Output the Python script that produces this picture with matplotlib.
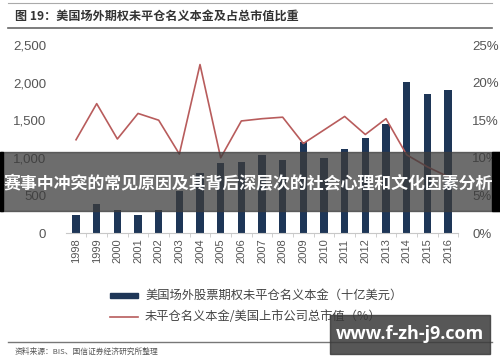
import matplotlib
matplotlib.use("Agg")
import matplotlib.pyplot as plt
from matplotlib.patches import Rectangle
from matplotlib.lines import Line2D
import numpy as np

plt.rcParams['font.family'] = ['Noto Sans CJK SC', 'DejaVu Sans']

years = [str(y) for y in range(1998, 2017)]
notional = [240, 390, 306, 240, 300, 560, 800, 927, 948, 1037, 967, 1206,
            1001, 1117, 1259, 1450, 2012, 1844, 1898]
ratio_pct = [12.4, 17.2, 12.5, 15.9, 15.0, 10.5, 22.4, 10.0, 14.9, 15.2, 15.4,
             11.9, 13.7, 15.5, 13.1, 15.2, 10.4, 8.8, 7.5]
left_ticks = [0, 500, 1000, 1500, 2000, 2500]
left_labels = ['0', '500', '1,000', '1,500', '2,000', '2,500']
right_ticks = [0, 5, 10, 15, 20, 25]
right_labels = ['0%', '5%', '10%', '15%', '20%', '25%']

title = '图 19：美国场外期权未平仓名义本金及占总市值比重'
legend_bar = '美国场外股票期权未平仓名义本金（十亿美元）'
legend_line = '未平仓名义本金/美国上市公司总市值（%）'
source = '资料来源：BIS、国信证券经济研究所整理'
banner = '赛事中冲突的常见原因及其背后深层次的社会心理和文化因素分析'
watermark = 'www.f-zh-j9.com'

W, H = 500, 362
fig = plt.figure(figsize=(W / 100, H / 100), dpi=100)
fig.patch.set_facecolor('white')

def fx(px):
    return px / W

def fy(py):
    return 1 - py / H

ax = fig.add_axes([fx(65.7), fy(233), fx(458.3) - fx(65.7), fy(45) - fy(233)])
x = np.arange(len(years))
bar_color = '#1e3657'
line_color = '#b85c5c'
ax.bar(x, notional, width=0.35, color=bar_color, zorder=2)
ax.set_xlim(-0.5, len(years) - 0.5)
ax.set_ylim(0, 2500)
ax.set_yticks(left_ticks)
ax.set_yticklabels(left_labels)
ax.set_xticks(x)
ax.set_xticklabels(years, rotation=90)
for s in ['top', 'right', 'left']:
    ax.spines[s].set_visible(False)
ax.spines['bottom'].set_color('#c8c8c8')
ax.tick_params(axis='y', length=0, labelsize=9.5, labelcolor='#555555', pad=14)
ax.tick_params(axis='x', length=0, labelsize=8, labelcolor='#555555', pad=4)
ax.set_xticks(np.arange(len(years)) + 0.5, minor=True)
ax.tick_params(axis='x', which='minor', length=3, color='#c8c8c8')
for lab in ax.get_xticklabels() + ax.get_yticklabels():
    lab.set_family(['Liberation Sans', 'DejaVu Sans'])

ax2 = ax.twinx()
ax2.plot(x, ratio_pct, color=line_color, lw=1.2, zorder=3)
ax2.set_ylim(0, 25)
ax2.set_yticks(right_ticks)
ax2.set_yticklabels(right_labels)
for s in ['top', 'right', 'left', 'bottom']:
    ax2.spines[s].set_visible(False)
ax2.tick_params(axis='y', length=0, labelsize=9.5, labelcolor='#555555', pad=10)
for lab in ax2.get_yticklabels():
    lab.set_family(['Liberation Sans', 'DejaVu Sans'])

# Header and rules
fig.add_artist(Line2D([fx(8), fx(492)], [fy(3), fy(3)], color='#aaaaaa', lw=0.8))
fig.text(fx(15), fy(16), title, fontsize=8.7, fontweight='bold', color='#333333',
         va='center', ha='left')
fig.add_artist(Line2D([fx(8), fx(492)], [fy(28), fy(28)], color='#666666', lw=1.2))

# Legend
fig.add_artist(Rectangle((fx(110), fy(298)), fx(28), fy(293) - fy(298),
                         color=bar_color))
fig.text(fx(145), fy(295.5), legend_bar, fontsize=8.8, color='#444444', va='center')
fig.add_artist(Line2D([fx(110), fx(138)], [fy(317), fy(317)], color=line_color, lw=1.2))
fig.text(fx(145), fy(317), legend_line, fontsize=8.8, color='#444444', va='center')

fig.add_artist(Line2D([fx(8), fx(492)], [fy(342), fy(342)], color='#777777', lw=1.0))
fig.text(fx(15), fy(352), source, fontsize=5.6, color='#555555', va='center')

# Overlay banner
fig.add_artist(Rectangle((0, fy(211)), 1, fy(152) - fy(211), color='#3c3c3c',
                         alpha=0.75, zorder=10))
fig.add_artist(Rectangle((0, fy(211)), fx(3), fy(152) - fy(211), color='black',
                         zorder=10))
fig.add_artist(Rectangle((fx(492), fy(211)), fx(8), fy(152) - fy(211), color='black',
                         zorder=10))
fig.text(fx(248), fy(184), banner, fontsize=12.2, fontweight='bold', color='white',
         ha='center', va='center', zorder=11)

# Watermark box
fig.add_artist(Rectangle((fx(330), fy(354)), fx(160), fy(315) - fy(354),
                         color='#3a3a3a', alpha=0.85, zorder=10))
fig.text(fx(410), fy(334), watermark, fontsize=13, fontweight='bold', color='white',
         ha='center', va='center', zorder=11,
         family=['Open Sans', 'DejaVu Sans'])

fig.savefig('out.png', dpi=100)
